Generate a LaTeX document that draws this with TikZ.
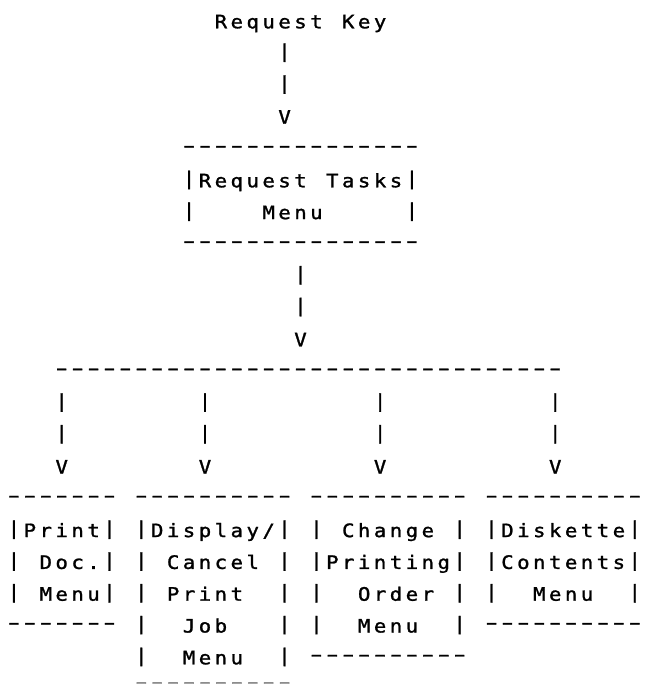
\documentclass[tikz,border=0pt]{standalone}
\usepackage{fontspec}
\usepackage{graphicx}
\newfontfamily\crtfont{DejaVu Sans Mono}[FakeStretch=1.12,FakeBold=1.3]
\usepackage{tikz}

% one character cell of the terminal screen
\newlength\cellw
\setlength\cellw{15.92pt}

\makeatletter
\def\scr@dash{-}
\def\scr@bar{|}
% set a screen line cell by cell, ~ is a blank cell
\newcommand\mono[1]{%
  \@tfor\scr@c:=#1\do{%
    \makebox[\cellw]{%
      \ifx\scr@c\scr@dash\makebox[0pt]{\raisebox{3.6pt}{\scalebox{1.7}[1]{-}}}%
      \else\ifx\scr@c\scr@bar\raisebox{2.5pt}{|}%
      \else\scr@c\fi\fi}}}
\makeatother

\tikzset{
  scr/.style={inner sep=0pt,outer sep=0pt,anchor=base west,%
    font=\crtfont\fontsize{18.5}{20}\selectfont},
  faint/.style={text=black!45},
}

\begin{document}
\begin{tikzpicture}[x=15.92pt,y=-31.8pt]
\fill[white] (-6pt,28.3pt) rectangle (640pt,-658.7pt);
\useasboundingbox (-6pt,28.3pt) rectangle (640pt,-658.7pt);
% request key down to the task menu
\node[scr] (key)   at (13,0) {\mono{Request~Key}};
\node[scr] (keyA)  at (17,1) {\mono{|}};
\node[scr] (keyB)  at (17,2) {\mono{|}};
\node[scr] (keyV)  at (17,3) {\mono{V}};
\node[scr] (tskT)  at (11,4) {\mono{---------------}};
\node[scr] (tsk1)  at (11,5) {\mono{|Request~Tasks|}};
\node[scr] (tsk2)  at (11,6) {\mono{|~~~~Menu~~~~~|}};
\node[scr] (tskB)  at (11,7) {\mono{---------------}};
\node[scr] (tskA)  at (18,8) {\mono{|}};
\node[scr] (tskC)  at (18,9) {\mono{|}};
\node[scr] (tskV)  at (18,10) {\mono{V}};
% fan out to the four menus
\node[scr] (fan)   at (3,11) {\mono{--------------------------------}};
\node[scr] (fanA)  at (3,12) {\mono{|~~~~~~~~|~~~~~~~~~~|~~~~~~~~~~|}};
\node[scr] (fanB)  at (3,13) {\mono{|~~~~~~~~|~~~~~~~~~~|~~~~~~~~~~|}};
\node[scr] (fanV)  at (3,14) {\mono{V~~~~~~~~V~~~~~~~~~~V~~~~~~~~~~V}};
\node[scr] (mnuT)  at (0,15) {\mono{-------~----------~----------~----------}};
\node[scr] (mnu1)  at (0,16) {\mono{|Print|~|Display/|~|~Change~|~|Diskette|}};
\node[scr] (mnu2)  at (0,17) {\mono{|~Doc.|~|~Cancel~|~|Printing|~|Contents|}};
\node[scr] (mnu3)  at (0,18) {\mono{|~Menu|~|~Print~~|~|~~Order~|~|~~Menu~~|}};
\node[scr] (mnu4)  at (0,19) {\mono{-------~|~~Job~~~|~|~~Menu~~|~----------}};
\node[scr] (mnu5)  at (8,20) {\mono{|~~Menu~~|~----------}};
\node[scr,faint] (mnuB) at ([yshift=4.5pt]8,21) {\mono{----------}};
\end{tikzpicture}
\end{document}
